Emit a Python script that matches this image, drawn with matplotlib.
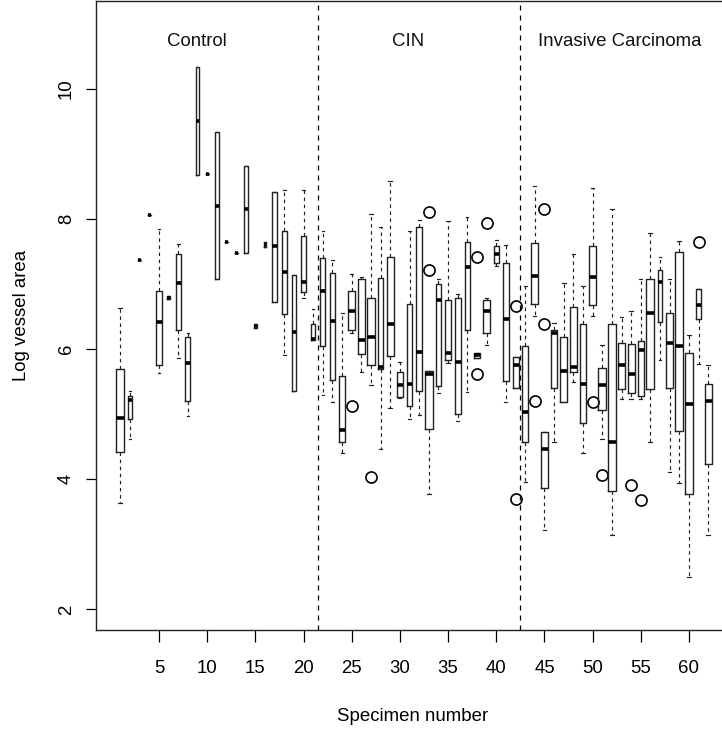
import matplotlib
matplotlib.use("Agg")
import matplotlib.pyplot as plt

plt.rcParams['font.family'] = ['Liberation Sans', 'DejaVu Sans']

# ---- data (per specimen 1..62) ----
specimens = list(range(1, 63))
q1 = [4.42, 4.92, 7.37, 8.06, 5.75, 6.77, 6.29, 5.20, 8.68, 8.69,
      7.07, 7.65, 7.48, 7.48, 6.33, 7.57, 6.72, 6.54, 5.36, 6.88,
      6.14, 6.04, 5.52, 4.57, 6.29, 5.92, 5.75, 5.70, 5.90, 5.26,
      5.13, 5.36, 4.77, 5.44, 5.84, 5.01, 6.29, 5.86, 6.24, 7.33,
      5.51, 5.40, 4.58, 6.70, 3.86, 5.40, 5.19, 5.65, 4.87, 6.68,
      5.06, 3.82, 5.38, 5.32, 5.28, 5.39, 6.42, 5.41, 4.74, 3.77,
      6.46, 4.24]
medians = [4.94, 5.22, 7.37, 8.06, 6.42, 6.79, 7.01, 5.79, 9.51, 8.69,
           8.20, 7.65, 7.48, 8.15, 6.36, 7.60, 7.59, 7.18, 6.26, 7.03,
           6.16, 6.89, 6.43, 4.75, 6.58, 6.14, 6.18, 5.73, 6.38, 5.45,
           5.46, 5.95, 5.61, 6.75, 5.94, 5.80, 7.26, 5.91, 6.59, 7.46,
           6.46, 5.75, 5.03, 7.12, 4.46, 6.24, 5.66, 5.72, 5.46, 7.11,
           5.45, 4.57, 5.75, 5.62, 5.99, 6.55, 7.03, 6.09, 6.04, 5.15,
           6.68, 5.21]
q3 = [5.69, 5.28, 7.37, 8.06, 6.90, 6.81, 7.46, 6.19, 10.33, 8.69,
      9.33, 7.65, 7.48, 8.82, 6.39, 7.65, 8.42, 7.82, 7.14, 7.73,
      6.39, 7.40, 7.17, 5.58, 6.90, 7.08, 6.79, 7.09, 7.41, 5.65,
      6.69, 7.87, 5.67, 7.00, 6.75, 6.78, 7.64, 5.94, 6.75, 7.58,
      7.32, 5.88, 6.05, 7.63, 4.73, 6.30, 6.18, 6.64, 6.39, 7.58,
      5.71, 6.38, 6.09, 6.08, 6.12, 7.08, 7.22, 6.55, 7.49, 5.94,
      6.93, 5.47]
whisker_low = [3.63, 4.62, 7.37, 8.06, 5.64, 6.77, 5.86, 4.98, 8.68, 8.69,
               7.07, 7.65, 7.48, 7.48, 6.33, 7.57, 6.72, 5.91, 5.36, 6.78,
               6.14, 5.30, 5.19, 4.41, 6.24, 5.65, 5.45, 4.46, 5.09, 5.25,
               4.92, 4.99, 3.78, 5.33, 5.78, 4.89, 5.34, 5.86, 6.06, 7.27,
               5.19, 5.40, 3.96, 6.51, 3.22, 4.58, 5.18, 5.50, 4.40, 6.51,
               4.62, 3.15, 5.24, 5.24, 5.24, 4.57, 5.83, 4.11, 3.95, 2.50,
               5.77, 3.14]
whisker_high = [6.63, 5.35, 7.37, 8.06, 7.85, 6.81, 7.62, 6.24, 10.33, 8.69,
                9.33, 7.65, 7.48, 8.82, 6.39, 7.65, 8.42, 8.44, 7.14, 8.44,
                6.62, 7.81, 7.37, 6.56, 7.16, 7.10, 8.07, 7.87, 8.58, 5.80,
                7.82, 7.98, 5.67, 7.08, 7.97, 6.85, 8.03, 5.94, 6.78, 7.68,
                7.60, 5.88, 6.97, 8.50, 4.73, 6.40, 7.02, 7.46, 6.97, 8.47,
                6.07, 8.15, 6.49, 6.59, 7.07, 7.78, 7.41, 7.08, 7.66, 6.22,
                6.93, 5.75]
outliers = {25: [5.13], 27: [4.04], 33: [8.11, 7.22], 38: [7.41, 5.62],
            39: [7.94], 42: [6.66, 3.70], 44: [5.20], 45: [8.15, 6.38],
            50: [5.18], 51: [4.07], 54: [3.91], 55: [3.68], 61: [7.65]}
# relative box widths (varwidth-style), in specimen units
box_widths = [0.83, 0.48, 0.30, 0.30, 0.52, 0.30, 0.52, 0.52, 0.35, 0.30,
              0.42, 0.30, 0.30, 0.42, 0.30, 0.30, 0.48, 0.55, 0.45, 0.48,
              0.45, 0.52, 0.55, 0.62, 0.69, 0.66, 0.73, 0.55, 0.76, 0.62,
              0.59, 0.59, 0.80, 0.59, 0.69, 0.62, 0.45, 0.69, 0.69, 0.52,
              0.59, 0.62, 0.66, 0.69, 0.73, 0.69, 0.76, 0.69, 0.66, 0.69,
              0.86, 0.80, 0.76, 0.73, 0.62, 0.83, 0.45, 0.73, 0.83, 0.80,
              0.59, 0.73]
group_names = ["Control", "CIN", "Invasive Carcinoma"]
group_label_x = [8.9, 30.8, 52.8]
group_bounds = [21.5, 42.5]
x_ticks = [5, 10, 15, 20, 25, 30, 35, 40, 45, 50, 55, 60]
y_ticks = [2, 4, 6, 8, 10]

# ---- figure ----
W, H = 722, 729
fig = plt.figure(figsize=(W / 100, H / 100), dpi=100)
left_px, right_px, top_px, bottom_px = 96, 730, 1, 630
ax = fig.add_axes([left_px / W, 1 - bottom_px / H,
                   (right_px - left_px) / W, (bottom_px - top_px) / H])

stats = []
for i, s in enumerate(specimens):
    stats.append(dict(med=medians[i], q1=q1[i], q3=q3[i],
                      whislo=whisker_low[i], whishi=whisker_high[i],
                      fliers=outliers.get(s, [])))

ax.bxp(stats, positions=specimens, widths=box_widths,
       capwidths=[w * 0.5 for w in box_widths],
       boxprops=dict(linewidth=1.0, color='#222222'),
       whiskerprops=dict(linewidth=0.85, linestyle=(0, (3, 3)), color='#222222'),
       capprops=dict(linewidth=0.85, color='#222222'),
       medianprops=dict(linewidth=2.6, color='black', solid_capstyle='butt'),
       flierprops=dict(marker='o', markerfacecolor='none', markeredgecolor='black',
                       markersize=8, markeredgewidth=1.2),
       manage_ticks=False)

for b in group_bounds:
    ax.axvline(b, color='black', linewidth=0.9, linestyle=(0, (4, 4)))

for name, gx in zip(group_names, group_label_x):
    ax.text(gx, 10.72, name, ha='center', va='center', fontsize=13.4, color='#111111')

ax.set_xlim(5 - (159 - left_px) / 9.636, 5 + (right_px - 159) / 9.636)
ax.set_ylim(2 - (bottom_px - 609.5) / 65.1, 2 + (609.5 - top_px) / 65.1)

ax.set_xticks(x_ticks)
ax.set_xticklabels([str(t) for t in x_ticks])
ax.set_yticks(y_ticks)
ax.set_yticklabels([str(t) for t in y_ticks], rotation=90, va='center')
ax.tick_params(axis='x', length=8.6, width=0.9, pad=13, labelsize=13.4)
ax.tick_params(axis='y', length=7.2, width=0.9, pad=8, labelsize=13.4)

for sp in ax.spines.values():
    sp.set_linewidth(1.0)
    sp.set_color('#222222')

ax.set_xlabel("Specimen number", fontsize=13.4, labelpad=22.5)
ax.set_ylabel("Log vessel area", fontsize=13.4, labelpad=20)

fig.savefig("out.png", dpi=100)
